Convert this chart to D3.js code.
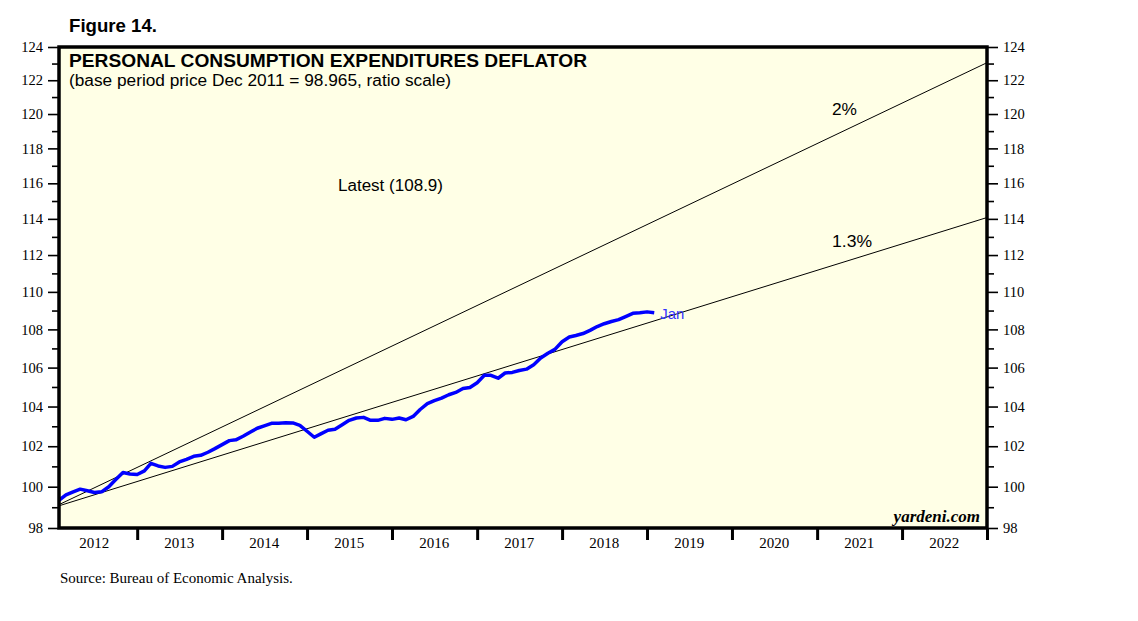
<!DOCTYPE html>
<html>
<head>
<meta charset="utf-8">
<script src="https://cdn.jsdelivr.net/npm/d3@7"></script>
<style>
  body { margin: 0; background: #fff; }
  svg text { fill: #000; }
</style>
</head>
<body>
<svg id="chart"></svg>
<script>
// data: PCE deflator, monthly, Jan 2012 .. Jan 2019
const startYear = 2012
const pce = [
  99.35, 99.6, 99.75, 99.88, 99.8, 99.72, 99.75, 100.0, 100.35, 100.7, 100.62, 100.6,
  100.78, 101.15, 101.02, 100.95, 101.0, 101.22, 101.35, 101.5, 101.55, 101.7, 101.88, 102.08,
  102.28, 102.32, 102.5, 102.7, 102.9, 103.02, 103.15, 103.15, 103.18, 103.17, 103.05, 102.75,
  102.45, 102.62, 102.8, 102.85, 103.08, 103.3, 103.42, 103.45, 103.3, 103.3, 103.4, 103.35,
  103.42, 103.33, 103.5, 103.85, 104.15, 104.3, 104.43, 104.6, 104.72, 104.92, 104.97, 105.22,
  105.6, 105.6, 105.45, 105.72, 105.75, 105.85, 105.92, 106.15, 106.5, 106.75, 106.95, 107.35,
  107.6, 107.68, 107.78, 107.95, 108.15, 108.3, 108.42, 108.52, 108.68, 108.85, 108.88, 108.93,
  108.88
]
const basePrice = 98.965          // Dec 2011
const trendRates = [0.02, 0.013]
const trendLabels = ['2%', '1.3%']
const yearLabels = d3.range(2012, 2023)
const yMajor = d3.range(98, 125, 2)
const yMinor = d3.range(99, 124, 2)

const WIDTH = 1138, HEIGHT = 621
const M = { left: 59, right: 987, top: 47, bottom: 528 }
const SVG = d3.select('#chart').attr('width', WIDTH).attr('height', HEIGHT)

// each month is plotted at the end of its month
const monthDate = i => new Date(startYear, i + 1, 1)
const baseDate = new Date(startYear, 0, 1)
const endDate = new Date(2023, 0, 1)

const x = d3.scaleTime().domain([new Date(2012, 0, 31), endDate]).range([M.left, M.right])
const y = d3.scaleLog().domain([98, 124]).range([M.bottom, M.top])

// background
SVG.append('rect')
  .attr('x', M.left).attr('y', M.top)
  .attr('width', M.right - M.left).attr('height', M.bottom - M.top)
  .attr('fill', '#ffffe6')

SVG.append('defs').append('clipPath').attr('id', 'clip')
  .append('rect')
  .attr('x', M.left).attr('y', M.top)
  .attr('width', M.right - M.left).attr('height', M.bottom - M.top)

// y axes, both sides
function yAxes(axisFn, tx) {
  const major = SVG.append('g').attr('transform', `translate(${tx},0)`)
    .call(axisFn(y).tickValues(yMajor).tickFormat(d3.format('d')).tickSize(10).tickPadding(5))
  const minor = SVG.append('g').attr('transform', `translate(${tx},0)`)
    .call(axisFn(y).tickValues(yMinor).tickFormat('').tickSize(6))
  for (const g of [major, minor]) {
    g.select('.domain').remove()
    g.selectAll('line').attr('stroke', '#000').attr('stroke-width', 1.6)
  }
  major.selectAll('text')
    .style('font-family', '"Liberation Serif", "Times New Roman", serif')
    .style('font-size', '14.5px')
}
yAxes(d3.axisLeft, M.left - 1)
yAxes(d3.axisRight, M.right + 1)

// x axis: year boundary ticks, labels in the middle of each year
const xg = SVG.append('g').attr('transform', `translate(0,${M.bottom})`)
  .call(d3.axisBottom(x)
    .tickValues(d3.range(2013, 2024).map(yr => new Date(yr, 0, 1)))
    .tickFormat('').tickSize(12))
xg.select('.domain').remove()
xg.selectAll('line').attr('stroke', '#000').attr('stroke-width', 3)

SVG.append('g').selectAll('text')
  .data(yearLabels)
  .join('text')
  .attr('x', d => x(new Date(d, 6, 1)))
  .attr('y', M.bottom + 20)
  .attr('text-anchor', 'middle')
  .style('font-family', '"Liberation Serif", "Times New Roman", serif')
  .style('font-size', '15px')
  .text(d => d)

// trend lines from the base period
const plot = SVG.append('g').attr('clip-path', 'url(#clip)')
const yearsFromBase = dt => (dt - baseDate) / (365.25 * 24 * 3600 * 1000)
const trendLine = d3.line().x(d => x(d[0])).y(d => y(d[1]))
trendRates.forEach(r => {
  const pts = [new Date(2012, 0, 31), endDate].map(dt => [dt, basePrice * Math.pow(1 + r, yearsFromBase(dt))])
  plot.append('path')
    .attr('d', trendLine(pts))
    .attr('fill', 'none')
    .attr('stroke', '#000')
    .attr('stroke-width', 1)
})

// PCE series
const pceLine = d3.line()
  .x((d, i) => x(monthDate(i)))
  .y(d => y(d))
plot.append('path')
  .datum(pce)
  .attr('d', pceLine)
  .attr('fill', 'none')
  .attr('stroke', '#0000ff')
  .attr('stroke-width', 3.5)
  .attr('stroke-linejoin', 'round')

// frame
SVG.append('rect')
  .attr('x', M.left).attr('y', M.top)
  .attr('width', M.right - M.left).attr('height', M.bottom - M.top)
  .attr('fill', 'none').attr('stroke', '#000').attr('stroke-width', 3.5)

// texts (the original uses a wide helvetica, so stretch to the measured width)
const sans = '"Liberation Sans", Arial, Helvetica, sans-serif'
const serif = '"Liberation Serif", "Times New Roman", serif'
function label(txt, px, py, size, opts = {}) {
  const t = SVG.append('text')
    .attr('x', px).attr('y', py)
    .attr('text-anchor', opts.anchor || 'start')
    .style('font-family', opts.family || sans)
    .style('font-size', size + 'px')
    .style('font-weight', opts.weight || 'normal')
    .style('font-style', opts.style || 'normal')
    .style('fill', opts.color || '#000')
    .text(txt)
  if (opts.len) t.attr('textLength', opts.len).attr('lengthAdjust', 'spacingAndGlyphs')
  return t
}
label('Figure 14.', 69, 32, 17.5, { weight: 'bold', len: 88 })
label('PERSONAL CONSUMPTION EXPENDITURES DEFLATOR', 69, 67, 17.5, { weight: 'bold', len: 518 })
label('(base period price Dec 2011 = 98.965, ratio scale)', 69, 86, 16, { len: 382 })
label('Latest (' + d3.format('.1f')(pce[pce.length - 1]) + ')', 338, 191, 16, { len: 105 })
label(trendLabels[0], 832, 115, 16, { len: 25 })
label(trendLabels[1], 832, 247, 16, { len: 40 })
label('Jan', x(monthDate(pce.length - 1)) + 6, y(pce[pce.length - 1]) + 6, 14.5, { color: '#3333ff', len: 24 })
label('yardeni.com', 980, 522, 17, { anchor: 'end', family: serif, weight: 'bold', style: 'italic' })
label('Source: Bureau of Economic Analysis.', 60, 583, 15, { family: serif })
</script>
</body>
</html>
